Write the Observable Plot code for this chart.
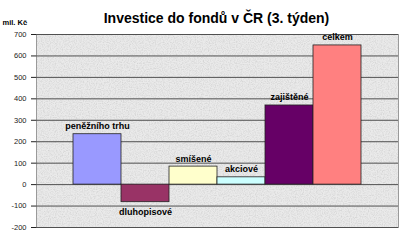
<!DOCTYPE html>
<html><head><meta charset="utf-8">
<script src="https://cdn.jsdelivr.net/npm/d3@7"></script>
<script src="https://cdn.jsdelivr.net/npm/@observablehq/plot@0.6"></script>
<style>
html,body{margin:0;padding:0;background:#fff;}
#chart svg{display:block;}
</style>
</head><body><div id="chart"></div>
<script>
const categories = ["peněžního trhu", "dluhopisové", "smíšené", "akciové", "zajištěné", "celkem"];
const values = [235, -82, 84, 34, 369, 649];
const colors = ["#9999FF", "#993366", "#FFFFCC", "#CCFFFF", "#660066", "#FF8080"];
const yTicks = [-200, -100, 0, 100, 200, 300, 400, 500, 600, 700];
const title = "Investice do fondů v ČR (3. týden)";
const unitLabel = "mil. Kč";

const data = categories.map((c, i) => ({cat: c, value: values[i], color: colors[i]}));

// granite-like texture for the plot area background
function granite(index, scales, values, dim) {
  const ns = "http://www.w3.org/2000/svg";
  const g = document.createElementNS(ns, "g");
  const x0 = dim.marginLeft, y0 = dim.marginTop;
  const w = dim.width - dim.marginLeft - dim.marginRight;
  const h = dim.height - dim.marginTop - dim.marginBottom;
  g.innerHTML = `<defs><filter id="granite" x="0" y="0" width="100%" height="100%" filterUnits="objectBoundingBox">
    <feTurbulence type="fractalNoise" baseFrequency="0.85" numOctaves="2" seed="7" result="n"/>
    <feColorMatrix in="n" type="matrix" values="0 0 0 0 0.62  0 0 0 0 0.62  0 0 0 0 0.62  0 0 0 1.6 -0.62"/>
    <feComposite operator="in" in2="SourceGraphic"/>
  </filter></defs>
  <rect x="${x0}" y="${y0}" width="${w}" height="${h}" fill="#eaeaea"/>
  <rect x="${x0}" y="${y0}" width="${w}" height="${h}" fill="#000" filter="url(#granite)"/>`;
  return g;
}

const chart = Plot.plot({
  width: 400,
  height: 242,
  marginLeft: 36,
  marginRight: 2,
  marginTop: 34,
  marginBottom: 15,
  style: {fontFamily: "Arial, 'Liberation Sans', sans-serif", background: "#fff", overflow: "visible"},
  x: {domain: categories, paddingInner: 0, paddingOuter: 0.73, axis: null},
  y: {domain: [-200, 700], label: null},
  marks: [
    granite,
    Plot.frame({stroke: "#9a9a9a"}),
    Plot.ruleY(yTicks, {stroke: "#505050", strokeWidth: 1}),
    Plot.barY(data, {x: "cat", y: "value", fill: "color", stroke: "#222", strokeWidth: 0.8}),
    Plot.text(data.filter(d => d.value >= 0), {x: "cat", y: "value", text: "cat", dy: -5, lineAnchor: "bottom", fontWeight: "bold", fontSize: 9, fill: "#000"}),
    Plot.text(data.filter(d => d.value < 0), {x: "cat", y: "value", text: "cat", dy: 6, lineAnchor: "top", fontWeight: "bold", fontSize: 9, fill: "#000"}),
    Plot.axisY({ticks: yTicks, tickSize: 5, tickPadding: 5, fontSize: 7.5, tickFormat: d => d, label: null, stroke: "#222", fill: "#222"}),
    Plot.ruleX([0], {frameAnchor: "left", stroke: "#222"}),
    Plot.text([title], {frameAnchor: "top", dx: -1, dy: -16, lineAnchor: "middle", fontWeight: "bold", fontSize: 14, fill: "#000"}),
    Plot.text([unitLabel], {frameAnchor: "top-left", dx: -34, dy: -12, textAnchor: "start", lineAnchor: "middle", fontWeight: "bold", fontSize: 7.5, fill: "#000"})
  ]
});
document.getElementById("chart").appendChild(chart);
</script>
</body></html>
